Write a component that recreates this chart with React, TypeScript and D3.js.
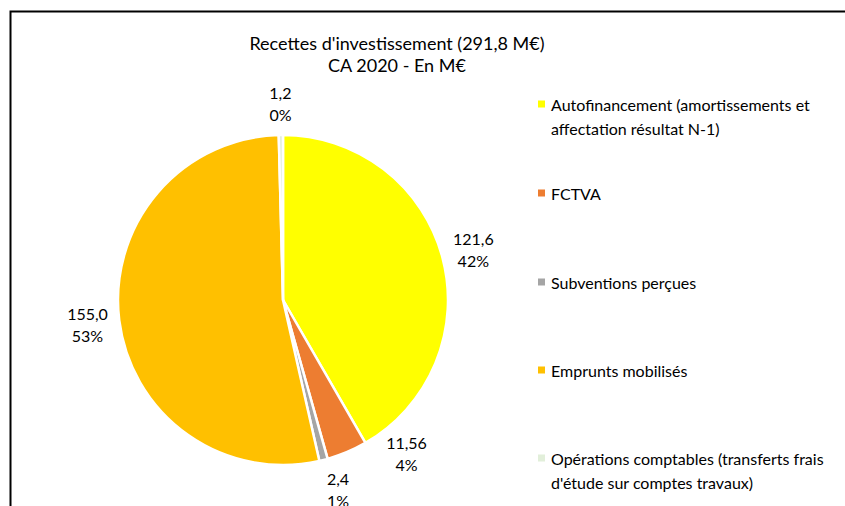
import React from "react";
import * as d3 from "d3";

const categories = [
  "Autofinancement (amortissements et affectation résultat N-1)",
  "FCTVA",
  "Subventions perçues",
  "Emprunts mobilisés",
  "Opérations comptables (transferts frais d'étude sur comptes travaux)",
];
const values = [121.6, 11.56, 2.4, 155.0, 1.2];
const valueLabels = ["121,6", "11,56", "2,4", "155,0", "1,2"];
const percentLabels = ["42%", "4%", "1%", "53%", "0%"];
const legendLines = [
  ["Autofinancement (amortissements et", "affectation résultat N-1)"],
  ["FCTVA"],
  ["Subventions perçues"],
  ["Emprunts mobilisés"],
  ["Opérations comptables (transferts frais", "d'étude sur comptes travaux)"],
];
const colors = ["#FFFF00", "#ED7D31", "#A5A5A5", "#FFC000", "#E2EFDA"];
const titleLines = ["Recettes d'investissement (291,8 M€)", "CA 2020 - En M€"];
// angular nudges (degrees) applied to label placement to avoid overlaps
const labelAngleShift = [0, -16, -2, 0, 0];

const W = 845;
const H = 506;
const FONT = "Lato, 'Open Sans', sans-serif";

export default function App() {
  const cx = 283;
  const cy = 300;
  const r = 165;
  const pie = d3.pie<number>().sort(null).value((d) => d);
  const arcs = pie(values);
  const arcGen = d3.arc<d3.PieArcDatum<number>>().innerRadius(0).outerRadius(r);
  const labelR = 197;
  const legendY = [104, 193, 282, 370, 458];

  return (
    <svg width={W} height={H} style={{ position: "absolute", left: 0, top: 0 }}>
      <rect x={0} y={0} width={W} height={H} fill="#fff" />
      <path d={`M10.5,${H + 5} V11.5 H${W + 5}`} fill="none" stroke="#000" strokeWidth={2} />
      <g fontFamily={FONT} fontSize={18} fill="#000">
        {titleLines.map((t, i) => (
          <text key={i} x={397} y={43 + i * 22} textAnchor="middle" dominantBaseline="central">{t}</text>
        ))}
      </g>
      <g transform={`translate(${cx},${cy})`}>
        {arcs.map((a, i) => (
          <path key={i} d={arcGen(a) || ""} fill={colors[i]} stroke="#fff" strokeWidth={2.5} strokeLinejoin="round" />
        ))}
      </g>
      <g fontFamily={FONT} fontSize={16} fill="#000" textAnchor="middle">
        {arcs.map((a, i) => {
          const mid = (a.startAngle + a.endAngle) / 2 + (labelAngleShift[i] * Math.PI) / 180;
          const x = cx + Math.sin(mid) * labelR;
          const y = cy - Math.cos(mid) * labelR;
          return (
            <g key={i}>
              <text x={x} y={y - 11} dominantBaseline="central">{valueLabels[i]}</text>
              <text x={x} y={y + 11} dominantBaseline="central">{percentLabels[i]}</text>
            </g>
          );
        })}
      </g>
      <g fontFamily={FONT} fontSize={16} fill="#000">
        {legendLines.map((lines, i) => (
          <g key={i}>
            <rect x={538} y={legendY[i] - 3.5} width={7} height={7} fill={colors[i]} />
            {lines.map((l, j) => (
              <text key={j} x={551} y={legendY[i] + j * 24} dominantBaseline="central">{l}</text>
            ))}
          </g>
        ))}
      </g>
    </svg>
  );
}
